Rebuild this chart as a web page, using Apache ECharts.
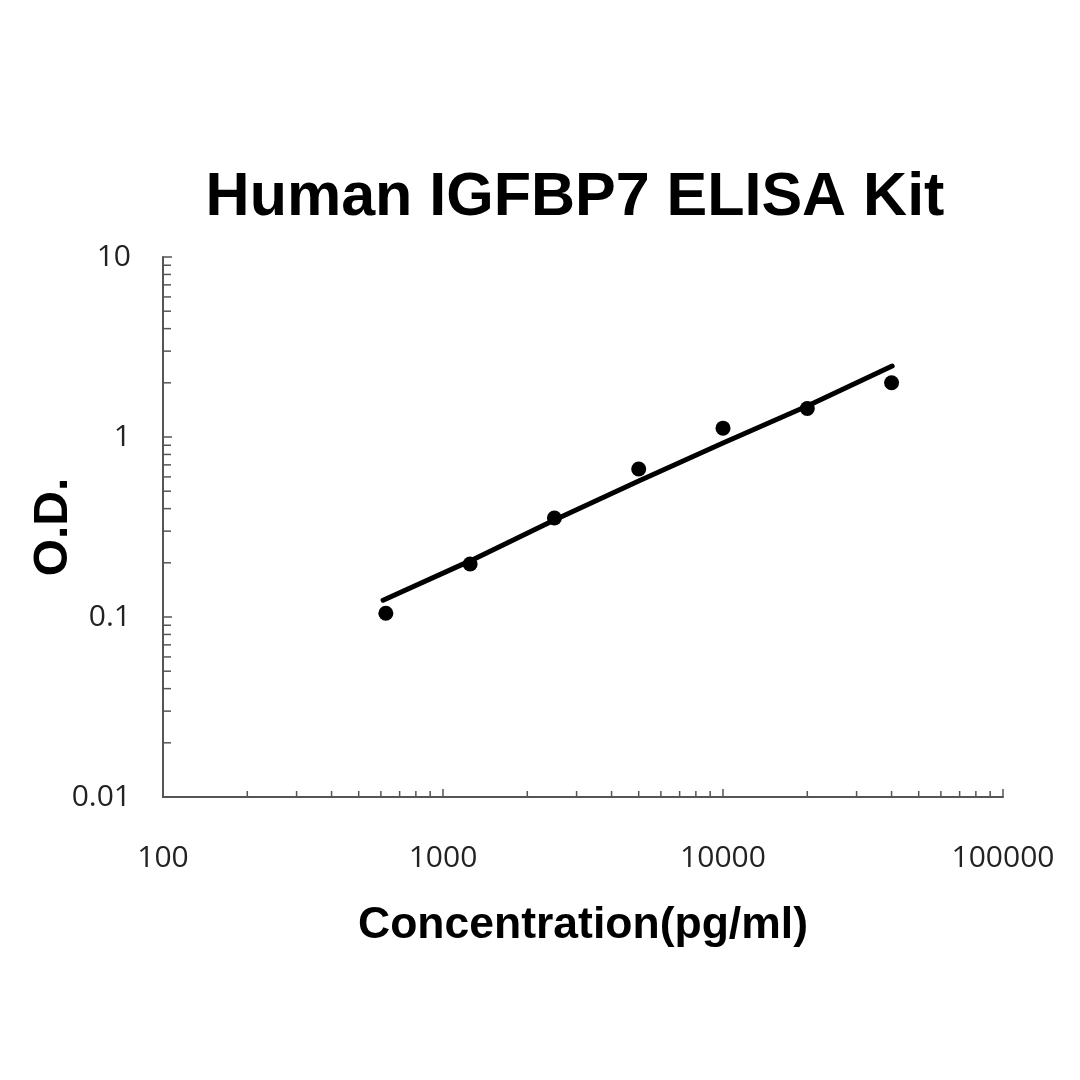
<!DOCTYPE html>
<html><head><meta charset="utf-8">
<script src="https://cdn.jsdelivr.net/npm/echarts@6/dist/echarts.min.js"></script>
<style>html,body{margin:0;padding:0;background:#fff}#c{width:1080px;height:1080px}</style>
</head><body><div id="c"></div>
<script>
// Standards (concentration pg/ml) and measured O.D.
const concentrations = [625, 1250, 2500, 5000, 10000, 20000, 40000];
const odValues = [0.105, 0.197, 0.355, 0.664, 1.12, 1.44, 2.0];
// Fitted curve
const fitX = [611, 1250, 2500, 5000, 10000, 20000, 40200];
const fitY = [0.124, 0.205, 0.346, 0.570, 0.927, 1.486, 2.48];
// Axis ticks
const xMinorTicks = [200,300,400,500,600,700,800,900,2000,3000,4000,5000,6000,7000,8000,9000,20000,30000,40000,50000,60000,70000,80000,90000];
const yMinorTicks = [0.02,0.03,0.04,0.05,0.06,0.07,0.08,0.09,0.2,0.3,0.4,0.5,0.6,0.7,0.8,0.9,2,3,4,5,6,7,8,9];
const titleText = 'Human IGFBP7 ELISA Kit';
const xName = 'Concentration(pg/ml)';
const yName = 'O.D.';

const chart = echarts.init(document.getElementById('c'), null, {renderer: 'canvas'});
const axisColor = '#555';
const fmt = v => String(Number(v.toPrecision(6)));
const option = {
  backgroundColor: '#fff',
  animation: false,
  grid: {left: 163, top: 257, right: 77, bottom: 283, containLabel: false, outerBoundsMode: 'none'},
  graphic: [{
    type: 'text', x: 575, y: 168,
    style: {text: titleText, fill: '#000', font: 'bold 61px "Liberation Sans", Arial, sans-serif', textAlign: 'center', textVerticalAlign: 'top'}
  }],
  xAxis: {
    type: 'log', logBase: 10, min: 100, max: 100000,
    name: xName, nameLocation: 'middle', nameGap: 106, nameMoveOverlap: false,
    nameTextStyle: {color: '#000', fontSize: 44.5, fontWeight: 'bold', fontFamily: '"Liberation Sans", Arial, sans-serif'},
    axisLine: {show: true, lineStyle: {color: axisColor, width: 2}},
    axisTick: {show: true, inside: true, length: 8, lineStyle: {color: axisColor, width: 1.5}},
    axisLabel: {color: '#222', fontSize: 30, fontFamily: '"Open Sans", sans-serif', margin: 46, formatter: fmt},
    splitLine: {show: false}
  },
  yAxis: {
    type: 'log', logBase: 10, min: 0.01, max: 10,
    name: yName, nameLocation: 'middle', nameGap: 85, nameRotate: 90, nameMoveOverlap: false,
    nameTextStyle: {color: '#000', fontSize: 48, fontWeight: 'bold', fontFamily: '"Liberation Sans", Arial, sans-serif'},
    axisLine: {show: true, lineStyle: {color: axisColor, width: 2}},
    axisTick: {show: true, inside: true, length: 9, lineStyle: {color: axisColor, width: 1.5}},
    axisLabel: {color: '#222', fontSize: 30, fontFamily: '"Open Sans", sans-serif', margin: 32, formatter: fmt, verticalAlign: 'middle', padding: [4, 0, 0, 0]},
    splitLine: {show: false}
  },
  series: [
    {
      type: 'custom', name: 'xMinor', silent: true, clip: false, z: 1,
      data: xMinorTicks.map(v => [v]),
      encode: {x: 0},
      renderItem: (params, api) => {
        const p = api.coord([api.value(0), 0.01]);
        return {type: 'line', shape: {x1: p[0], y1: p[1], x2: p[0], y2: p[1] - 6}, style: {stroke: axisColor, lineWidth: 1.5}};
      }
    },
    {
      type: 'custom', name: 'yMinor', silent: true, clip: false, z: 1,
      data: yMinorTicks.map(v => [100, v]),
      encode: {x: 0, y: 1},
      renderItem: (params, api) => {
        const p = api.coord([100, api.value(1)]);
        return {type: 'line', shape: {x1: p[0], y1: p[1], x2: p[0] + 8, y2: p[1]}, style: {stroke: axisColor, lineWidth: 1.5}};
      }
    },
    {
      type: 'line', name: 'fit',
      data: fitX.map((x, i) => [x, fitY[i]]),
      showSymbol: false, symbol: 'none', smooth: false,
      lineStyle: {color: '#000', width: 5, cap: 'round'}, z: 3
    },
    {
      type: 'scatter', name: 'standards',
      data: concentrations.map((x, i) => [x, odValues[i]]),
      symbol: 'circle', symbolSize: 15,
      itemStyle: {color: '#000', opacity: 1}, z: 4
    }
  ]
};
chart.setOption(option);
</script></body></html>
